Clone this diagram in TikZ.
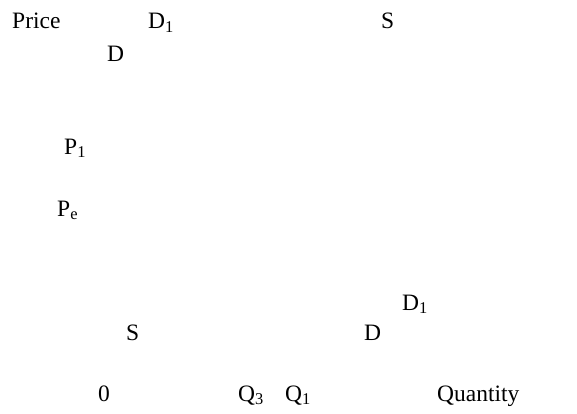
\documentclass[tikz,border=0pt]{standalone}
\usepackage{fontspec}
\setmainfont{Liberation Serif}
\begin{document}
\begin{tikzpicture}[x=1pt,y=1pt,
  lbl/.style={anchor=base west,inner sep=0pt,font=\fontsize{23.5}{27}\selectfont}]
\useasboundingbox (0,0) rectangle (577,413);
\node[lbl] (price) at (12,{413-29}) {Price};
\node[lbl] (d1top) at (148,{413-29}) {D\textsubscript{1}};
\node[lbl] (stop) at (381,{413-29}) {S};
\node[lbl] (dtop) at (107,{413-61.5}) {D};
\node[lbl] (p1) at (64,{413-154}) {P\textsubscript{1}};
\node[lbl] (pe) at (57,{413-216}) {P\textsubscript{e}};
\node[lbl] (d1bot) at (402,{413-310}) {D\textsubscript{1}};
\node[lbl] (sbot) at (126,{413-340}) {S};
\node[lbl] (dbot) at (364,{413-340}) {D};
\node[lbl] (zero) at (98,{413-401}) {0};
\node[lbl] (q3) at (238,{413-401}) {Q\textsubscript{3}};
\node[lbl] (q1) at (285,{413-401}) {Q\textsubscript{1}};
\node[lbl] (qty) at (437,{413-401}) {Quantity};
\end{tikzpicture}
\end{document}
